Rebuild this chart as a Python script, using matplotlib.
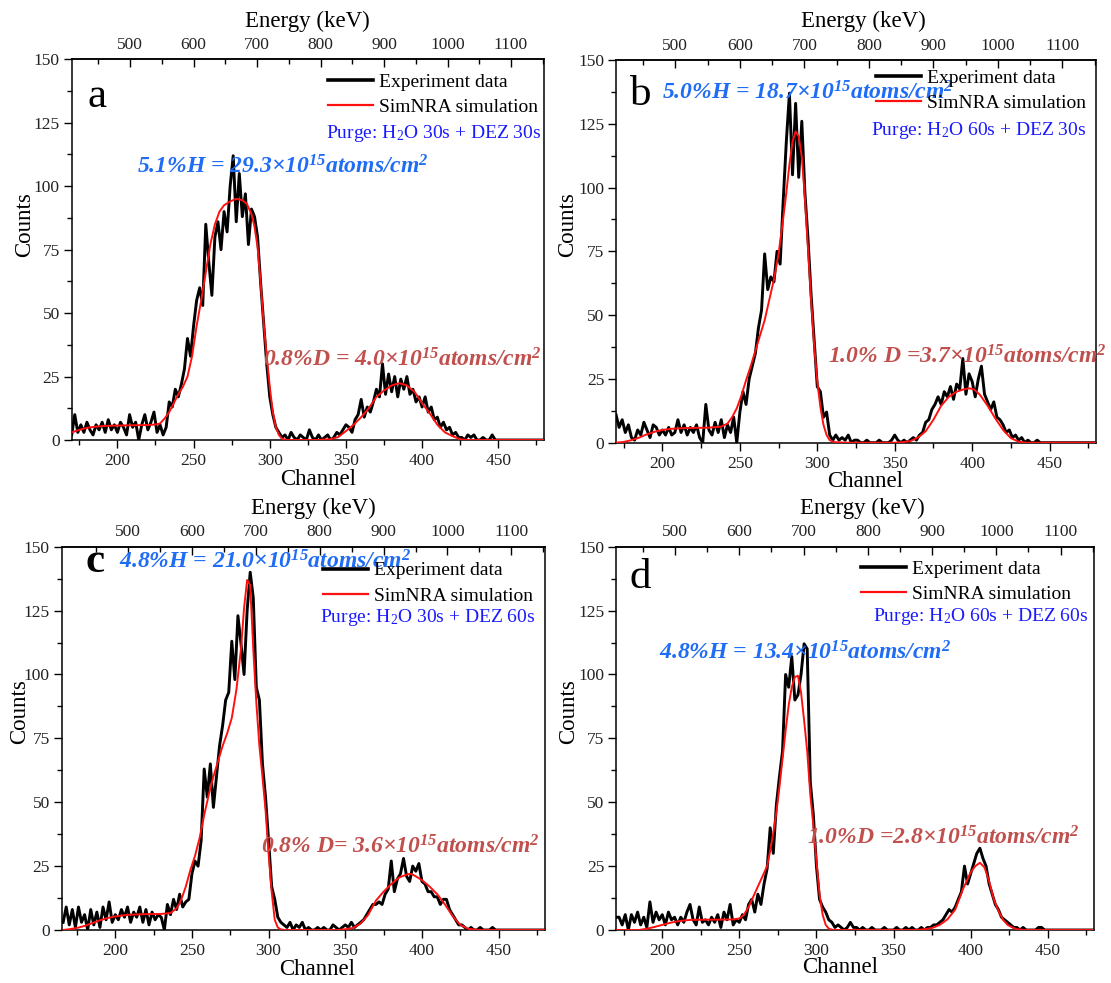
import numpy as np
import matplotlib
matplotlib.use("Agg")
import matplotlib.pyplot as plt
from matplotlib.lines import Line2D

plt.rcParams['font.family'] = ['Liberation Serif', 'DejaVu Serif']
plt.rcParams['mathtext.fontset'] = 'custom'
plt.rcParams['mathtext.rm'] = 'Liberation Serif'
plt.rcParams['mathtext.it'] = 'Liberation Serif:italic'
plt.rcParams['mathtext.bf'] = 'Liberation Serif:bold'
plt.rcParams['mathtext.bfit'] = 'Liberation Serif:bold:italic'

# ---------------- data ----------------
KEV_PER_CHANNEL = 2.4

exp_a = [2,10,3,6,3,7,4,2,6,4,
         7,3,8,4,6,3,7,5,2,10,
         5,7,0,6,10,4,7,11,3,6,
         2,5,15,13,20,17,22,28,40,33,
         45,55,60,53,85,70,57,80,86,75,
         90,82,100,112,86,105,88,97,77,91,
         88,80,62,46,30,17,10,5,3,1,
         2,0,3,1,0,2,1,0,4,1,
         0,2,0,1,2,0,1,3,2,4,
         6,5,3,8,10,16,9,13,11,15,
         20,17,30,18,26,19,25,17,24,20,
         25,18,20,15,17,13,17,11,13,8,
         9,5,7,4,5,2,3,1,1,0,
         2,1,2,0,0,1,0,0,2,0,
         0,0,0,0,0,0,0,0,0,0,
         0,0,0,0,0,0]
exp_b = [11,6,9,4,7,2,1,5,3,8,
         5,2,7,6,3,5,3,6,3,4,
         9,4,7,3,6,4,7,2,0,15,
         5,3,8,4,9,2,7,4,10,0,
         12,20,15,25,30,35,45,52,74,60,
         65,63,75,70,95,118,137,105,133,104,
         126,98,80,58,40,22,20,10,12,3,
         1,3,1,2,1,3,0,1,1,0,
         0,1,0,0,0,1,0,0,0,1,
         3,1,0,1,0,1,2,1,3,4,
         8,9,13,15,18,15,20,18,22,17,
         23,21,33,19,27,24,18,25,30,19,
         16,13,16,10,9,7,4,5,2,3,
         1,2,0,1,0,0,1,0,0,0,
         0,0,0,0,0,0,0,0,0,0,
         0,0,0,0,0,0]
exp_c = [3,9,
         2,8,1,9,3,6,0,8,2,7,
         1,9,4,11,3,6,4,8,5,9,
         3,7,5,9,3,8,2,7,4,6,
         5,0,10,6,12,8,14,9,11,12,
         22,27,25,35,63,52,65,48,60,72,
         80,90,93,113,98,123,112,100,125,140,
         130,95,90,65,52,35,17,12,5,3,
         2,1,3,0,2,1,3,0,1,0,
         0,1,0,1,0,0,2,1,0,1,
         2,1,3,1,2,3,4,6,8,10,
         10,11,10,14,16,27,15,20,22,28,
         21,19,25,23,26,19,18,15,15,13,
         13,10,12,12,8,6,4,2,2,1,
         0,1,0,0,1,0,0,0,1,0,
         0,0,0,0,0,0,0,0,0,0,
         0,0,0,0,0,0]
exp_d = [5,5,2,6,0,6,3,7,2,5,
         1,11,3,7,4,6,2,7,4,5,
         2,5,3,7,10,4,2,9,3,4,
         2,5,3,6,1,7,4,10,2,4,
         3,6,4,10,12,7,14,10,18,24,
         40,30,49,60,70,100,95,107,90,92,
         100,112,110,58,45,25,12,9,7,4,
         3,1,2,1,0,1,3,1,1,0,
         1,0,0,1,0,0,0,1,0,0,
         0,1,0,0,1,0,1,0,0,1,
         0,1,1,2,2,3,4,6,8,7,
         9,12,15,25,18,22,26,30,32,28,
         25,18,14,10,8,5,4,3,2,1,
         1,0,1,0,0,0,0,1,1,0,
         0,0,0,0,0,0,0,0,0,0,
         0,0,0,0,0,0]

sim_a_ch = [170,175,180,185,190,195,200,210,220,225,
            228,231,234,237,240,243,246,249,252,255,
            258,261,264,267,270,274,278,282,285,288,
            290,292,294,296,298,300,302,304,306,308,
            311,315,330,340,345,350,355,360,365,370,
            375,380,385,390,395,400,405,410,415,420,
            425,430,440,480]
sim_a = [3,4,4.8,5.2,5.5,5.6,5.7,5.8,5.9,6.1,
         6.5,8.5,11,14.5,18,21,25,33,45,55,
         66,77,85,90,92.5,94,95,94.5,93,89,
         84,76,62,46,33,21,11,5,2,0.5,
         0,0,0,0.3,1.2,3.5,6,9,12.5,17,
         19.5,21.5,22.4,21.5,19,14.5,10.5,6,3,1.5,
         0.3,0,0,0]
sim_b_ch = [170,175,180,185,190,195,200,205,210,220,
            230,238,242,245,248,251,254,257,260,263,
            266,269,272,275,278,280,282,284,286,288,
            290,292,294,296,298,300,302,304,306,308,
            311,320,350,355,360,365,370,375,380,385,
            390,395,398,401,405,410,415,420,425,430,
            435,440,480]
sim_b = [0,0.3,1,2,3.3,4.3,5,5.4,5.6,5.8,
         5.9,6.3,7.5,10,13.5,18.5,24.5,30,36,42,
         48,56,64,74,88,98,109,118,122,120,
         112,96,76,56,38,24,14,7,3,1,
         0.2,0,0,0.2,0.6,2,4.5,9,14.5,18,
         20,21,21.3,21,18.8,14.5,9.5,5,1.8,0.4,
         0,0,0]
sim_c_ch = [166,170,175,180,185,190,195,200,205,210,
            220,230,236,240,242,244,246,249,252,255,
            258,261,264,267,270,273,276,279,282,284,
            286,288,290,292,294,296,298,300,302,304,
            306,308,311,320,340,345,350,355,360,365,
            370,375,380,385,390,393,396,400,405,410,
            415,420,425,430,435,440,480]
sim_c = [0,0.3,0.8,1.6,2.7,3.8,4.7,5.3,5.7,6,
         6.2,6.3,6.6,8.5,10.5,13.5,17,23.5,29,36,
         45,53,60,66,72,77,83,94,110,126,
         137,135,110,89,72,60,47,30,15,4,
         1,0.2,0,0,0,0,0.3,0.8,2.5,6,
         11.5,15,18,20.5,21.7,22,21,19.5,17,14,
         10,5.5,2,0.5,0.1,0,0]
sim_d_ch = [170,185,190,195,200,205,210,215,220,245,
            250,253,256,259,262,265,268,270,272,274,
            276,278,280,282,284,286,288,290,292,294,
            296,298,300,302,304,306,308,311,320,365,
            370,375,380,385,390,395,400,403,406,409,
            412,415,418,421,424,427,430,435,440,480]
sim_d = [0,0,0.5,1.2,2,2.8,3.4,3.8,4,4.1,
         4.5,6,9,13,17,21,25,31,38,46,
         56,67,78,88,95,99,99.5,93,82,70,
         53,41,27,14,6,2,0.5,0,0,0,
         0.3,0.8,2,4.2,8,16,22.5,25,26.3,24.5,
         19,12,7.5,4,2,1,0.3,0,0,0]

panel_letters = ['a', 'b', 'c', 'd']
purge_labels = [r'Purge: H$_2$O 30s + DEZ 30s', r'Purge: H$_2$O 60s + DEZ 30s',
                r'Purge: H$_2$O 30s + DEZ 60s', r'Purge: H$_2$O 60s + DEZ 60s']
h_labels = [r'5.1%H = 29.3×10$^{\mathbfit{15}}$atoms/cm$^{\mathbfit{2}}$',
            r'5.0%H = 18.7×10$^{\mathbfit{15}}$atoms/cm$^{\mathbfit{2}}$',
            r'4.8%H = 21.0×10$^{\mathbfit{15}}$atoms/cm$^{\mathbfit{2}}$',
            r'4.8%H = 13.4×10$^{\mathbfit{15}}$atoms/cm$^{\mathbfit{2}}$']
d_labels = [r'0.8%D = 4.0×10$^{\mathbfit{15}}$atoms/cm$^{\mathbfit{2}}$',
            r'1.0% D =3.7×10$^{\mathbfit{15}}$atoms/cm$^{\mathbfit{2}}$',
            r'0.8% D= 3.6×10$^{\mathbfit{15}}$atoms/cm$^{\mathbfit{2}}$',
            r'1.0%D =2.8×10$^{\mathbfit{15}}$atoms/cm$^{\mathbfit{2}}$']
exp_start = [170, 170, 166, 170]
x_left = [170, 170, 165, 170]
exp_series = [exp_a, exp_b, exp_c, exp_d]
sim_series = [(sim_a_ch, sim_a), (sim_b_ch, sim_b), (sim_c_ch, sim_c), (sim_d_ch, sim_d)]

# ---------------- layout ----------------
W, H = 1111, 983
fig = plt.figure(figsize=(W / 100, H / 100), dpi=100)

# (left px, right px, top px, bottom px)
boxes = [(71.7, 544, 59.3, 440), (616, 1096, 60, 442.7),
         (61.6, 544.6, 546.7, 930), (616, 1094, 546.7, 930)]

# text placements in axes fraction
letter_pos = [(0.0345, 0.875), (0.0292, 0.8837), (0.0505, 0.9348), (0.0272, 0.8923)]
legend_pos = [(0.5427, 0.9075), (0.5417, 0.9203), (0.5412, 0.9045), (0.5126, 0.9092)]
purge_pos = [(0.9938, 0.8064), (0.9792, 0.8145), (0.98, 0.8148), (0.9874, 0.8174)]
h_pos = [(0.1383, 0.7179), (0.0958, 0.9138), (0.1188, 0.9609), (0.0891, 0.7227)]
d_pos = [(0.404, 0.2101), (0.4417, 0.2239), (0.4122, 0.2173), (0.3992, 0.24)]
xlab_pos = [(0.521, -0.105), (0.519, -0.102), (0.529, -0.104), (0.468, -0.099)]
ylab_pos = [(-0.099, 0.567), (-0.101, 0.571), (-0.087, 0.5696), (-0.0996, 0.5696)]
elab_pos = [(0.500, 1.099), (0.515, 1.100), (0.521, 1.100), (0.516, 1.100)]

H_BLUE = '#1f6cf5'
PURGE_BLUE = '#1a1aff'
D_RED = '#c0504d'
TICK_COLOR = '#222222'

for i in range(4):
    l, r, t, b = boxes[i]
    ax = fig.add_axes([l / W, 1 - b / H, (r - l) / W, (b - t) / H])
    ch = np.arange(exp_start[i], exp_start[i] + 2 * len(exp_series[i]), 2)
    ax.plot(ch, exp_series[i], color='black', lw=2.1, zorder=2)
    sc, sv = sim_series[i]
    ax.plot(sc, sv, color='#ff1010', lw=1.4, zorder=3)

    ax.set_xlim(x_left[i], 480)
    ax.set_ylim(0, 150)
    ax.set_xticks([200, 250, 300, 350, 400, 450])
    ax.set_xticks(np.arange(175, 480, 50), minor=True)
    ax.set_yticks([0, 25, 50, 75, 100, 125, 150])
    ax.set_yticks(np.arange(12.5, 150, 25), minor=True)
    ax.tick_params(axis='both', which='major', direction='out', length=6, width=1.0,
                   labelsize=12.5, labelcolor=TICK_COLOR, top=False, right=False)
    ax.tick_params(axis='both', which='minor', direction='out', length=3.5, width=1.0,
                   top=False, right=False)
    ax.tick_params(axis='x', which='major', pad=3.5)
    ax.tick_params(axis='y', which='major', pad=2.5)
    for sp in ax.spines.values():
        sp.set_linewidth(1.1)

    secax = ax.secondary_xaxis('top', functions=(lambda c: c * KEV_PER_CHANNEL,
                                                 lambda e: e / KEV_PER_CHANNEL))
    secax.set_xticks([500, 600, 700, 800, 900, 1000, 1100])
    secax.set_xticks(np.arange(450, 1160, 100), minor=True)
    secax.tick_params(which='major', direction='in', length=6, width=1.0,
                      labelsize=12.5, labelcolor=TICK_COLOR, pad=4.5)
    secax.tick_params(which='minor', direction='in', length=3.5, width=1.0)
    secax.spines['top'].set_linewidth(1.1)

    ax.set_xlabel('Channel', fontsize=16.5)
    ax.xaxis.set_label_coords(*xlab_pos[i])
    ax.xaxis.label.set_va('center')
    ax.set_ylabel('Counts', fontsize=16.5)
    ax.yaxis.set_label_coords(*ylab_pos[i])
    ax.yaxis.label.set_va('center')
    ax.text(elab_pos[i][0], elab_pos[i][1], 'Energy (keV)', transform=ax.transAxes,
            fontsize=16.5, ha='center', va='center')

    ax.text(letter_pos[i][0], letter_pos[i][1], panel_letters[i], transform=ax.transAxes,
            fontsize=31, ha='left', va='baseline',
            fontweight='bold' if panel_letters[i] == 'c' else 'normal')

    handles = [Line2D([], [], color='black', lw=2.6), Line2D([], [], color='#ff1010', lw=1.6)]
    ax.legend(handles, ['Experiment data', 'SimNRA simulation'], loc='center left',
              bbox_to_anchor=legend_pos[i], frameon=False, borderpad=0, borderaxespad=0,
              handlelength=2.3, handletextpad=0.3, labelspacing=0.4, fontsize=14)

    ax.text(purge_pos[i][0], purge_pos[i][1], purge_labels[i], transform=ax.transAxes,
            fontsize=14, color=PURGE_BLUE, ha='right', va='center')
    ax.text(h_pos[i][0], h_pos[i][1], h_labels[i], transform=ax.transAxes,
            fontsize=17, color=H_BLUE, fontweight='bold', fontstyle='italic',
            ha='left', va='center', zorder=5)
    ax.text(d_pos[i][0], d_pos[i][1], d_labels[i], transform=ax.transAxes,
            fontsize=17, color=D_RED, fontweight='bold', fontstyle='italic',
            ha='left', va='center', zorder=5)

fig.savefig('out.png', dpi=100)
